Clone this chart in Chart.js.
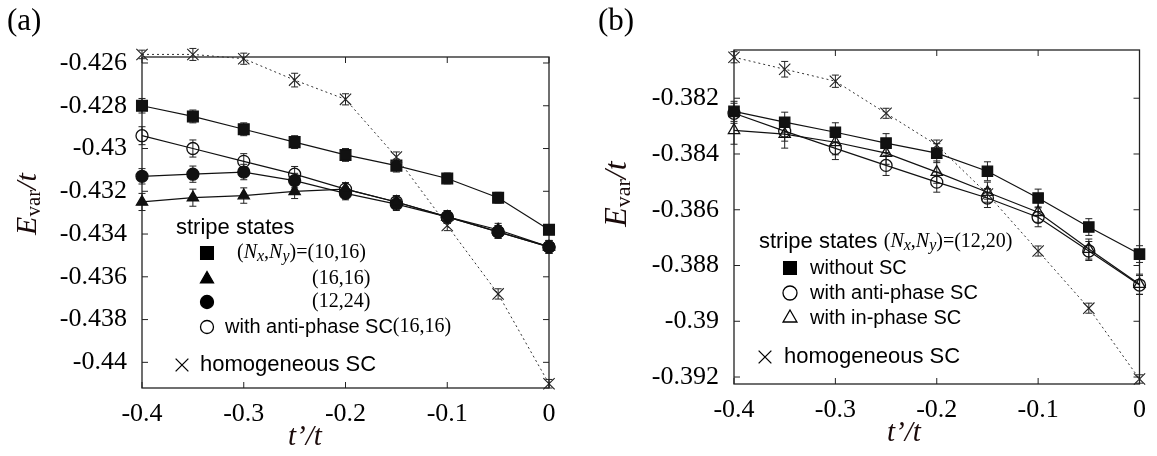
<!DOCTYPE html>
<html>
<head>
<meta charset="utf-8">
<script src="https://cdn.jsdelivr.net/npm/chart.js@4.4.1/dist/chart.umd.min.js"></script>
<style>
  html, body { margin: 0; padding: 0; background: #fff; }
  #wrap { position: relative; width: 1157px; height: 456px; }
  .panel { position: absolute; top: 0; height: 456px; }
  #panelA { left: 0; width: 580px; }
  #panelB { left: 580px; width: 577px; }
</style>
</head>
<body>
<div id="wrap">
  <div class="panel" id="panelA"><canvas id="chartA"></canvas></div>
  <div class="panel" id="panelB"><canvas id="chartB"></canvas></div>
</div>
<script>
// t'/t grid shared by every series
const tRatio = [-0.4, -0.35, -0.3, -0.25, -0.2, -0.15, -0.1, -0.05, 0];

const xTicks = [-0.4, -0.3, -0.2, -0.1, 0];
const xTickLabels = ['-0.4', '-0.3', '-0.2', '-0.1', '0'];

// ---- (a) stripe states for several lattice sizes ----
const aTicks = [-0.44, -0.438, -0.436, -0.434, -0.432, -0.43, -0.428, -0.426];
const aTickLabels = ['-0.44', '-0.438', '-0.436', '-0.434', '-0.432', '-0.43', '-0.428', '-0.426'];

const aStripe1016 = [-0.4280, -0.4285, -0.4291, -0.4297, -0.4303, -0.4308, -0.4314, -0.4323, -0.4338];
const aStripe1016Err = [0.00034, 0.0003, 0.0003, 0.0003, 0.0003, 0.0003, 0.00025, 0.00025, 0.0002];
const aStripe1616 = [-0.4325, -0.4323, -0.4322, -0.4320, -0.4319, -0.4325, -0.4332, -0.4338, -0.4346];
const aStripe1616Err = [0.0004, 0.0004, 0.00036, 0.00034, 0.0003, 0.0003, 0.0003, 0.0003, 0.0003];
const aStripe1224 = [-0.4313, -0.4312, -0.4311, -0.4315, -0.4321, -0.4326, -0.4332, -0.4339, -0.4346];
const aStripe1224Err = [0.00036, 0.00038, 0.00036, 0.00034, 0.0003, 0.0003, 0.0003, 0.0003, 0.0003];
const aAnti1616 = [-0.4294, -0.4300, -0.4306, -0.4312, -0.4319, -0.4325, -0.4332, -0.4339, -0.4346];
const aAnti1616Err = [0.00042, 0.0004, 0.00036, 0.00036, 0.0003, 0.0003, 0.0003, 0.0003, 0.0003];
const aHomog = [-0.4256, -0.4256, -0.4258, -0.4268, -0.4277, -0.4304, -0.4336, -0.4368, -0.4410];
const aHomogErr = [0.0002, 0.00028, 0.00026, 0.00032, 0.00026, 0.00024, 0.00024, 0.00024, 0.0002];

// ---- (b) stripe states on 12x20 with/without SC ----
const bTicks = [-0.392, -0.39, -0.388, -0.386, -0.384, -0.382];
const bTickLabels = ['-0.392', '-0.39', '-0.388', '-0.386', '-0.384', '-0.382'];

const bWithout = [-0.38247, -0.38286, -0.38322, -0.38361, -0.38397, -0.38462, -0.38558, -0.38662, -0.38759];
const bWithoutErr = [0.00036, 0.00036, 0.00034, 0.00034, 0.00034, 0.00034, 0.00032, 0.0003, 0.0003];
const bAnti = [-0.38254, -0.38318, -0.38380, -0.38441, -0.38501, -0.38558, -0.38627, -0.38748, -0.38870];
const bAntiErr = [0.00036, 0.00036, 0.0004, 0.00036, 0.00036, 0.00034, 0.00034, 0.00034, 0.00034];
const bInPhase = [-0.38315, -0.38329, -0.38358, -0.38397, -0.38465, -0.38537, -0.38609, -0.38741, -0.38867];
const bInPhaseErr = [0.0005, 0.0005, 0.00045, 0.0004, 0.0004, 0.00036, 0.00036, 0.00036, 0.00036];
const bHomog = [-0.38053, -0.38096, -0.38139, -0.38254, -0.38368, -0.38544, -0.38748, -0.38953, -0.39207];
const bHomogErr = [0.0002, 0.00028, 0.00022, 0.00018, 0.00018, 0.00018, 0.00018, 0.00018, 0.00015];

const SERIF = '"Liberation Serif", "Times New Roman", serif';
const SANS = '"Liberation Sans", Arial, sans-serif';
const INK = '#111';

function pts(values) {
  return values.map((v, i) => ({ x: tRatio[i], y: v }));
}

function stripeSet(values, errors, style, filled, radius) {
  return {
    data: pts(values), errors,
    borderColor: INK, borderWidth: 1.2,
    pointStyle: style, pointRadius: radius, pointBorderWidth: 1.3,
    pointBackgroundColor: filled ? INK : 'rgba(0,0,0,0)', pointBorderColor: INK,
    clip: false,
  };
}

function homogSet(values, errors) {
  return {
    data: pts(values), errors,
    borderColor: '#333', borderWidth: 1, borderDash: [2, 3],
    pointStyle: 'crossRot', pointRadius: 8, pointBorderWidth: 1.1,
    pointBorderColor: '#222', pointBackgroundColor: 'rgba(0,0,0,0)',
    clip: false,
  };
}

// vertical error bars with caps, drawn under the markers
const errorBars = {
  id: 'errorBars',
  beforeDatasetsDraw(chart) {
    const ctx = chart.ctx, ys = chart.scales.y;
    chart.data.datasets.forEach((ds, i) => {
      if (!ds.errors) return;
      const meta = chart.getDatasetMeta(i);
      ctx.save();
      ctx.strokeStyle = '#222';
      ctx.lineWidth = 1;
      meta.data.forEach((pt, j) => {
        const v = ds.data[j].y, e = ds.errors[j];
        const y1 = ys.getPixelForValue(v + e), y2 = ys.getPixelForValue(v - e);
        ctx.beginPath();
        ctx.moveTo(pt.x, y1); ctx.lineTo(pt.x, y2);
        ctx.moveTo(pt.x - 3.5, y1); ctx.lineTo(pt.x + 3.5, y1);
        ctx.moveTo(pt.x - 3.5, y2); ctx.lineTo(pt.x + 3.5, y2);
        ctx.stroke();
      });
      ctx.restore();
    });
  },
};

// gnuplot-like box with inward ticks mirrored on all four sides
const frame = {
  id: 'frame',
  beforeDatasetsDraw(chart) {
    const { ctx, chartArea: a } = chart;
    const xs = chart.scales.x, ys = chart.scales.y, len = 6;
    ctx.save();
    ctx.strokeStyle = '#222';
    ctx.lineWidth = 1.3;
    ctx.strokeRect(a.left, a.top, a.right - a.left, a.bottom - a.top);
    ctx.lineWidth = 1;
    ctx.beginPath();
    xs.ticks.forEach(t => {
      const x = xs.getPixelForValue(t.value);
      ctx.moveTo(x, a.bottom); ctx.lineTo(x, a.bottom - len);
      ctx.moveTo(x, a.top); ctx.lineTo(x, a.top + len);
    });
    ys.ticks.forEach(t => {
      const y = ys.getPixelForValue(t.value);
      ctx.moveTo(a.left, y); ctx.lineTo(a.left + len, y);
      ctx.moveTo(a.right, y); ctx.lineTo(a.right - len, y);
    });
    ctx.stroke();
    ctx.restore();
  },
};

// text runs with mixed fonts and sub/superscript offsets
function richWidth(ctx, runs) {
  let w = 0;
  runs.forEach(r => { ctx.font = r.f; w += ctx.measureText(r.t).width; });
  return w;
}
function drawRich(ctx, x, y, runs) {
  ctx.textBaseline = 'middle';
  ctx.textAlign = 'left';
  runs.forEach(r => {
    ctx.font = r.f;
    ctx.fillText(r.t, x, y + (r.dy || 0));
    x += ctx.measureText(r.t).width;
  });
  return x;
}

const fSans = px => px + 'px ' + SANS;
const fSerif = px => px + 'px ' + SERIF;
const fItal = px => 'italic ' + px + 'px ' + SERIF;

function nxny(px) {
  const sub = Math.round(px * 0.78);
  return [
    { t: '(', f: fSerif(px) }, { t: 'N', f: fItal(px) }, { t: 'x', f: fItal(sub), dy: 4 },
    { t: ',', f: fSerif(px) }, { t: 'N', f: fItal(px) }, { t: 'y', f: fItal(sub), dy: 4 },
    { t: ')=', f: fSerif(px) },
  ];
}

// titles, panel tag and the hand-placed key
const annotate = {
  id: 'annotate',
  afterDraw(chart, args, opts) {
    const ctx = chart.ctx;
    ctx.save();
    ctx.fillStyle = '#000';
    ctx.strokeStyle = '#000';

    // panel tag
    ctx.font = fSerif(31);
    ctx.textBaseline = 'middle';
    ctx.fillText(opts.tag, opts.tagX, 22);

    // x title
    ctx.fillStyle = '#1a0a0a';
    drawRich(ctx, opts.xTitle[0], opts.xTitle[1], [{ t: 't\u2019/t', f: fItal(29) }]);

    // y title, rotated
    const yRuns = [
      { t: 'E', f: fItal(opts.yTitleSize) },
      { t: 'var', f: fSerif(Math.round(opts.yTitleSize * 0.7)), dy: 6 },
      { t: '/t', f: fItal(opts.yTitleSize) },
    ];
    ctx.save();
    ctx.translate(opts.yTitle[0], opts.yTitle[1]);
    ctx.rotate(-Math.PI / 2);
    drawRich(ctx, -richWidth(ctx, yRuns) / 2, 0, yRuns);
    ctx.restore();

    // key
    ctx.fillStyle = '#000';
    opts.key.forEach(k => {
      if (k.marker) {
        ctx.fillStyle = k.marker.filled ? '#000' : 'rgba(0,0,0,0)';
        ctx.strokeStyle = '#000';
        ctx.lineWidth = 1.3;
        Chart.helpers.drawPoint(ctx, {
          pointStyle: k.marker.style, radius: k.marker.r, rotation: 0, borderWidth: 1.3,
        }, k.marker.x, k.y);
      }
      ctx.fillStyle = '#000';
      drawRich(ctx, k.x, k.y, k.runs);
    });
    ctx.restore();
  },
};

function makeChart(id, cfg) {
  return new Chart(document.getElementById(id), {
    type: 'line',
    data: { datasets: cfg.datasets },
    plugins: [frame, errorBars, annotate],
    options: {
      responsive: true,
      maintainAspectRatio: false,
      animation: false,
      events: [],
      layout: { padding: cfg.padding },
      plugins: {
        legend: { display: false },
        tooltip: { enabled: false },
        annotate: cfg.annotate,
      },
      scales: {
        x: {
          type: 'linear', min: -0.4, max: 0,
          afterBuildTicks: s => { s.ticks = xTicks.map(v => ({ value: v })); },
          afterFit: s => { s.height = cfg.xHeight; },
          grid: { display: false, drawTicks: false },
          border: { display: false },
          ticks: {
            callback: (v, i) => xTickLabels[i],
            font: { family: SERIF, size: 26 }, color: '#000',
            padding: 11, maxRotation: 0, autoSkip: false,
          },
        },
        y: {
          type: 'linear', min: cfg.yMin, max: cfg.yMax,
          afterBuildTicks: s => { s.ticks = cfg.yTicks.map(v => ({ value: v })); },
          afterFit: s => { s.width = cfg.yWidth; },
          grid: { display: false, drawTicks: false },
          border: { display: false },
          ticks: {
            callback: (v, i) => cfg.yTickLabels[i],
            font: { family: SERIF, size: 26 }, color: '#000',
            padding: 15, autoSkip: false,
          },
        },
      },
    },
  });
}

makeChart('chartA', {
  yMin: -0.4412, yMax: -0.42572,
  yTicks: aTicks, yTickLabels: aTickLabels,
  yWidth: 142, xHeight: 68,
  padding: { left: 0, top: 57, right: 31, bottom: 0 },
  datasets: [
    homogSet(aHomog, aHomogErr),
    stripeSet(aStripe1016, aStripe1016Err, 'rect', true, 7.6),
    stripeSet(aStripe1616, aStripe1616Err, 'triangle', true, 6.5),
    stripeSet(aStripe1224, aStripe1224Err, 'circle', true, 6),
    stripeSet(aAnti1616, aAnti1616Err, 'circle', false, 6),
  ],
  annotate: {
    tag: '(a)', tagX: 7,
    xTitle: [288, 437],
    yTitle: [28, 204], yTitleSize: 30,
    key: [
      { x: 176, y: 228, runs: [{ t: 'stripe states', f: fSans(22) }] },
      { x: 237, y: 253, marker: { style: 'rect', r: 9, filled: true, x: 207 },
        runs: nxny(20).concat([{ t: '(10,16)', f: fSerif(20) }]) },
      { x: 312, y: 279, marker: { style: 'triangle', r: 7.5, filled: true, x: 207 },
        runs: [{ t: '(16,16)', f: fSerif(20) }] },
      { x: 312, y: 302, marker: { style: 'circle', r: 6.5, filled: true, x: 207 },
        runs: [{ t: '(12,24)', f: fSerif(20) }] },
      { x: 225, y: 327, marker: { style: 'circle', r: 6.5, filled: false, x: 207 },
        runs: [{ t: 'with anti-phase SC', f: fSans(20) }, { t: '(16,16)', f: fSerif(20) }] },
      { x: 200, y: 365, marker: { style: 'crossRot', r: 9, filled: false, x: 182 },
        runs: [{ t: 'homogeneous SC', f: fSans(22) }] },
    ],
  },
});

makeChart('chartB', {
  yMin: -0.39225, yMax: -0.38027,
  yTicks: bTicks, yTickLabels: bTickLabels,
  yWidth: 154, xHeight: 72,
  padding: { left: 0, top: 50, right: 11, bottom: 0 },
  datasets: [
    homogSet(bHomog, bHomogErr),
    stripeSet(bWithout, bWithoutErr, 'rect', true, 7.3),
    stripeSet(bAnti, bAntiErr, 'circle', false, 6),
    stripeSet(bInPhase, bInPhaseErr, 'triangle', false, 6.5),
  ],
  annotate: {
    tag: '(b)', tagX: 18,
    xTitle: [307, 433],
    yTitle: [38, 194], yTitleSize: 32,
    key: [
      { x: 179, y: 242, runs: [{ t: 'stripe states ', f: fSans(22) }].concat(nxny(20), [{ t: '(12,20)', f: fSerif(20) }]) },
      { x: 230, y: 268, marker: { style: 'rect', r: 9, filled: true, x: 210 },
        runs: [{ t: 'without SC', f: fSans(20) }] },
      { x: 230, y: 293, marker: { style: 'circle', r: 7, filled: false, x: 210 },
        runs: [{ t: 'with anti-phase SC', f: fSans(20) }] },
      { x: 230, y: 318, marker: { style: 'triangle', r: 8, filled: false, x: 210 },
        runs: [{ t: 'with in-phase SC', f: fSans(20) }] },
      { x: 204, y: 357, marker: { style: 'crossRot', r: 9, filled: false, x: 185 },
        runs: [{ t: 'homogeneous SC', f: fSans(22) }] },
    ],
  },
});
</script>
</body>
</html>
